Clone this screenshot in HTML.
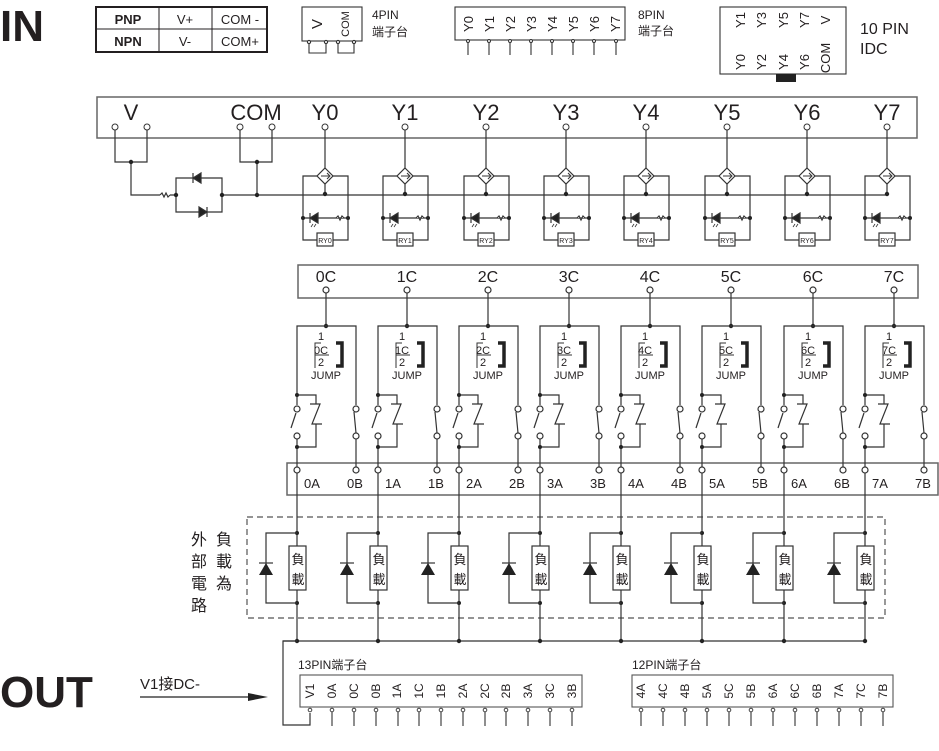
<!DOCTYPE html>
<html><head><meta charset="utf-8"><style>
body{margin:0;background:#fff}
svg{display:block;font-family:"Liberation Sans","Noto Sans CJK TC",sans-serif}
</style></head><body>
<svg width="939" height="751" viewBox="0 0 939 751" xmlns="http://www.w3.org/2000/svg">
<defs>
<g id="ych" stroke="#333" stroke-width="1.2" fill="none">
<line x1="0" y1="130" x2="0" y2="168"/>
<polygon points="0,168 8,176 0,184 -8,176" fill="#fff"/>
<path d="M-4,176 H4 M2,173 L5,176 L2,179" stroke-width="1"/>
<line x1="0" y1="184" x2="0" y2="194"/>
<circle cx="0" cy="194" r="2.2" fill="#222" stroke="none"/>
<path d="M-8,176 H-22 V240 H-8 M8,240 H23 V176 H8"/>
<line x1="-22" y1="218" x2="23" y2="218"/>
<polygon points="-15,218 -7,213 -7,223" fill="#222"/>
<line x1="-15" y1="213" x2="-15" y2="223"/>
<path d="M11,218 l2,-2 l2,4 l2,-4 l2,2" fill="#fff"/>
<circle cx="-22" cy="218" r="2" fill="#222" stroke="none"/>
<circle cx="23" cy="218" r="2" fill="#222" stroke="none"/>
<rect x="-8" y="233" width="16" height="13" fill="#fff"/>
<path d="M-12,224 l-2,3 M-9,224 l-2,3" stroke-width="0.8"/>
</g>
<g id="lch" stroke="#333" stroke-width="1.2" fill="none">
<circle cx="0" cy="290" r="3" fill="#fff"/>
<line x1="0" y1="293" x2="0" y2="326"/>
<circle cx="0" cy="326" r="2.2" fill="#222" stroke="none"/>
<path d="M-29,470 V326 H30 V406"/>
<rect x="-30" y="405" width="2" height="34" fill="#fff" stroke="none"/>
<circle cx="-29" cy="409" r="3" fill="#fff"/>
<circle cx="-29" cy="436" r="3" fill="#fff"/>
<line x1="-30" y1="413" x2="-35" y2="428"/>
<path d="M-29,395 H-10 V404 M-10,424 V447 H-29"/>
<path d="M-16,404 H-6 L-14,424 H-4"/>
<circle cx="-29" cy="395" r="2" fill="#222" stroke="none"/>
<circle cx="-29" cy="447" r="2" fill="#222" stroke="none"/>
<rect x="28" y="405" width="4" height="34" fill="#fff" stroke="none"/>
<circle cx="30" cy="409" r="3" fill="#fff"/>
<circle cx="30" cy="436" r="3" fill="#fff"/>
<line x1="28" y1="412" x2="30" y2="433"/>
<line x1="30" y1="439" x2="30" y2="467"/>
<circle cx="-29" cy="470" r="3" fill="#fff"/>
<circle cx="30" cy="470" r="3" fill="#fff"/>
<path d="M-29,473 V641"/>
<circle cx="-29" cy="533" r="2" fill="#222" stroke="none"/>
<circle cx="-29" cy="603" r="2" fill="#222" stroke="none"/>
<circle cx="-29" cy="641" r="2.2" fill="#222" stroke="none"/>
<path d="M-29,533 H-60 V603 H-29"/>
<polygon points="-60,563 -67,575 -53,575" fill="#222" stroke="none"/>
<line x1="-67" y1="563" x2="-53" y2="563"/>
<rect x="-37" y="546" width="17" height="44" fill="#fff"/>
<path d="M-5,343 H-11 V368 M-11,355 H3" stroke-width="1"/>
<path d="M10,343 H16 V366 H10" stroke="#222" stroke-width="3.5"/>
</g>
</defs>

<!-- IN -->
<text x="0" y="41" font-size="44" font-weight="bold" fill="#231f20">IN</text>
<g stroke="#231f20" fill="none">
<rect x="96" y="7" width="171" height="45" stroke-width="2"/>
<line x1="96" y1="29" x2="267" y2="29" stroke-width="1"/>
<line x1="159" y1="7" x2="159" y2="52" stroke-width="1"/>
<line x1="212" y1="7" x2="212" y2="52" stroke-width="1"/>
</g>
<g font-size="13" fill="#231f20" text-anchor="middle">
<text x="128" y="24" font-weight="bold">PNP</text><text x="185" y="24">V+</text><text x="240" y="24">COM -</text>
<text x="128" y="46" font-weight="bold">NPN</text><text x="185" y="46">V-</text><text x="240" y="46">COM+</text>
</g>
<!-- 4PIN -->
<g stroke="#333" stroke-width="1.1" fill="none">
<rect x="302" y="7" width="60" height="34"/>
<path d="M309,43 V53 H326 V43 M338,43 V53 H354 V43"/>
<circle cx="309" cy="42" r="1.6" fill="#fff"/><circle cx="326" cy="42" r="1.6" fill="#fff"/>
<circle cx="338" cy="42" r="1.6" fill="#fff"/><circle cx="354" cy="42" r="1.6" fill="#fff"/>
</g>
<text transform="translate(322,24) rotate(-90)" font-size="15" text-anchor="middle" fill="#231f20">V</text>
<text transform="translate(349,24) rotate(-90)" font-size="11" text-anchor="middle" fill="#231f20">COM</text>
<text x="372" y="19" font-size="12" fill="#231f20">4PIN</text>
<text x="372" y="36" font-size="12" fill="#231f20">端子台</text>
<!-- 8PIN -->
<rect x="455" y="7" width="170" height="33" stroke="#333" fill="none" stroke-width="1.1"/>
<g font-size="13" fill="#231f20" text-anchor="middle">
<text transform="translate(473,24) rotate(-90)">Y0</text><text transform="translate(494,24) rotate(-90)">Y1</text>
<text transform="translate(515,24) rotate(-90)">Y2</text><text transform="translate(536,24) rotate(-90)">Y3</text>
<text transform="translate(557,24) rotate(-90)">Y4</text><text transform="translate(578,24) rotate(-90)">Y5</text>
<text transform="translate(599,24) rotate(-90)">Y6</text><text transform="translate(620,24) rotate(-90)">Y7</text>
</g>
<g stroke="#333" stroke-width="1.1">
<path d="M468,42V55M489,42V55M510,42V55M531,42V55M552,42V55M573,42V55M594,42V55M616,42V55"/>
</g>
<g fill="#fff" stroke="#333"><circle cx="468" cy="41" r="1.5"/><circle cx="489" cy="41" r="1.5"/><circle cx="510" cy="41" r="1.5"/><circle cx="531" cy="41" r="1.5"/><circle cx="552" cy="41" r="1.5"/><circle cx="573" cy="41" r="1.5"/><circle cx="594" cy="41" r="1.5"/><circle cx="616" cy="41" r="1.5"/></g>
<text x="638" y="19" font-size="12" fill="#231f20">8PIN</text>
<text x="638" y="35" font-size="12" fill="#231f20">端子台</text>
<!-- IDC -->
<rect x="720" y="7" width="126" height="67" stroke="#333" fill="none" stroke-width="1.1"/>
<rect x="776" y="74" width="20" height="8" fill="#222"/>
<g font-size="13" fill="#231f20" text-anchor="middle">
<text transform="translate(745,20) rotate(-90)">Y1</text><text transform="translate(766,20) rotate(-90)">Y3</text>
<text transform="translate(788,20) rotate(-90)">Y5</text><text transform="translate(809,20) rotate(-90)">Y7</text>
<text transform="translate(830,20) rotate(-90)">V</text>
<text transform="translate(745,62) rotate(-90)">Y0</text><text transform="translate(766,62) rotate(-90)">Y2</text>
<text transform="translate(788,62) rotate(-90)">Y4</text><text transform="translate(809,62) rotate(-90)">Y6</text>
<text transform="translate(830,58) rotate(-90)">COM</text>
</g>
<text x="860" y="34" font-size="16" fill="#231f20">10 PIN</text>
<text x="860" y="54" font-size="16" fill="#231f20">IDC</text>

<!-- top box -->
<rect x="97" y="97" width="820" height="41" fill="none" stroke="#666" stroke-width="1.5"/>
<g font-size="22" fill="#231f20" text-anchor="middle">
<text x="131" y="120">V</text><text x="256" y="120">COM</text>
<text x="325" y="120">Y0</text><text x="405" y="120">Y1</text><text x="486" y="120">Y2</text><text x="566" y="120">Y3</text>
<text x="646" y="120">Y4</text><text x="727" y="120">Y5</text><text x="807" y="120">Y6</text><text x="887" y="120">Y7</text>
</g>
<g stroke="#333" stroke-width="1.2" fill="none">
<path d="M115,130 V162 H147 V130 M131,162 V195 H160 M170,195 H176 M240,130 V162 H272 V130 M257,162 V195"/>
<path d="M160,195 l2,-2 l2,4 l2,-4 l2,4 l2,-2"/>
<path d="M176,195 V178 H222 V212 H176 V195 M222,195 H887"/>
<polygon points="193,178 201,173 201,183" fill="#222"/><line x1="193" y1="173" x2="193" y2="183"/>
<polygon points="207,212 199,207 199,217" fill="#222"/><line x1="207" y1="207" x2="207" y2="217"/>
</g>
<g fill="#fff" stroke="#333"><circle cx="115" cy="127" r="3"/><circle cx="147" cy="127" r="3"/><circle cx="240" cy="127" r="3"/><circle cx="272" cy="127" r="3"/></g>
<g fill="#222"><circle cx="131" cy="162" r="2.2"/><circle cx="176" cy="195" r="2.2"/><circle cx="222" cy="195" r="2.2"/><circle cx="257" cy="162" r="2.2"/><circle cx="257" cy="195" r="2.2"/></g>
<use href="#ych" x="325"/><use href="#ych" x="405"/><use href="#ych" x="486"/><use href="#ych" x="566"/>
<use href="#ych" x="646"/><use href="#ych" x="727"/><use href="#ych" x="807"/><use href="#ych" x="887"/>
<g fill="#fff" stroke="#333"><circle cx="325" cy="127" r="3"/><circle cx="405" cy="127" r="3"/><circle cx="486" cy="127" r="3"/><circle cx="566" cy="127" r="3"/><circle cx="646" cy="127" r="3"/><circle cx="727" cy="127" r="3"/><circle cx="807" cy="127" r="3"/><circle cx="887" cy="127" r="3"/></g>
<g font-size="7" fill="#231f20" text-anchor="middle">
<text x="325" y="243">RY0</text><text x="405" y="243">RY1</text><text x="486" y="243">RY2</text><text x="566" y="243">RY3</text>
<text x="646" y="243">RY4</text><text x="727" y="243">RY5</text><text x="807" y="243">RY6</text><text x="887" y="243">RY7</text>
</g>

<!-- C box -->
<rect x="298" y="265" width="620" height="33" fill="none" stroke="#666" stroke-width="1.5"/>
<rect x="287" y="463" width="651" height="32" fill="none" stroke="#666" stroke-width="1.5"/>
<rect x="247" y="517" width="638" height="101" fill="none" stroke="#555" stroke-width="1.2" stroke-dasharray="6,4"/>
<line x1="283" y1="641" x2="865" y2="641" stroke="#333" stroke-width="1.2"/>
<use href="#lch" x="326"/><use href="#lch" x="407"/><use href="#lch" x="488"/><use href="#lch" x="569"/>
<use href="#lch" x="650"/><use href="#lch" x="731"/><use href="#lch" x="813"/><use href="#lch" x="894"/>
<g font-size="16" fill="#231f20" text-anchor="middle">
<text x="326" y="282">0C</text><text x="407" y="282">1C</text><text x="488" y="282">2C</text><text x="569" y="282">3C</text>
<text x="650" y="282">4C</text><text x="731" y="282">5C</text><text x="813" y="282">6C</text><text x="894" y="282">7C</text>
</g>
<g font-size="11" fill="#231f20" text-anchor="middle">
<text x="321" y="340">1</text><text x="321" y="354">0C</text><text x="321" y="366">2</text><text x="326" y="379">JUMP</text>
<text x="402" y="340">1</text><text x="402" y="354">1C</text><text x="402" y="366">2</text><text x="407" y="379">JUMP</text>
<text x="483" y="340">1</text><text x="483" y="354">2C</text><text x="483" y="366">2</text><text x="488" y="379">JUMP</text>
<text x="564" y="340">1</text><text x="564" y="354">3C</text><text x="564" y="366">2</text><text x="569" y="379">JUMP</text>
<text x="645" y="340">1</text><text x="645" y="354">4C</text><text x="645" y="366">2</text><text x="650" y="379">JUMP</text>
<text x="726" y="340">1</text><text x="726" y="354">5C</text><text x="726" y="366">2</text><text x="731" y="379">JUMP</text>
<text x="808" y="340">1</text><text x="808" y="354">6C</text><text x="808" y="366">2</text><text x="813" y="379">JUMP</text>
<text x="889" y="340">1</text><text x="889" y="354">7C</text><text x="889" y="366">2</text><text x="894" y="379">JUMP</text>
</g>
<g font-size="13" fill="#231f20" text-anchor="middle">
<text x="312" y="488">0A</text><text x="355" y="488">0B</text><text x="393" y="488">1A</text><text x="436" y="488">1B</text>
<text x="474" y="488">2A</text><text x="517" y="488">2B</text><text x="555" y="488">3A</text><text x="598" y="488">3B</text>
<text x="636" y="488">4A</text><text x="679" y="488">4B</text><text x="717" y="488">5A</text><text x="760" y="488">5B</text>
<text x="799" y="488">6A</text><text x="842" y="488">6B</text><text x="880" y="488">7A</text><text x="923" y="488">7B</text>
</g>
<g font-size="13" fill="#231f20" text-anchor="middle">
<text x="298" y="564">負</text><text x="298" y="584">載</text><text x="379" y="564">負</text><text x="379" y="584">載</text>
<text x="460" y="564">負</text><text x="460" y="584">載</text><text x="541" y="564">負</text><text x="541" y="584">載</text>
<text x="622" y="564">負</text><text x="622" y="584">載</text><text x="703" y="564">負</text><text x="703" y="584">載</text>
<text x="785" y="564">負</text><text x="785" y="584">載</text><text x="866" y="564">負</text><text x="866" y="584">載</text>
</g>
<g font-size="16" fill="#231f20" text-anchor="middle">
<text x="199" y="545">外</text><text x="199" y="567">部</text><text x="199" y="589">電</text><text x="199" y="611">路</text>
<text x="224" y="545">負</text><text x="224" y="567">載</text><text x="224" y="589">為</text>
</g>

<!-- OUT -->
<text x="0" y="707" font-size="44" font-weight="bold" fill="#231f20">OUT</text>
<text x="140" y="689" font-size="15" fill="#231f20">V1接DC-</text>
<line x1="140" y1="697" x2="250" y2="697" stroke="#222" stroke-width="1.3"/>
<polygon points="248,693 268,697 248,701" fill="#222"/>
<path d="M297,641 H283 V725 H310 V713" stroke="#333" stroke-width="1.2" fill="none"/>
<text x="298" y="669" font-size="12" fill="#231f20">13PIN端子台</text>
<rect x="300" y="675" width="282" height="32" fill="none" stroke="#555" stroke-width="1.1"/>
<g font-size="12" fill="#231f20" text-anchor="middle">
<text transform="translate(314,691) rotate(-90)">V1</text><text transform="translate(336,691) rotate(-90)">0A</text>
<text transform="translate(358,691) rotate(-90)">0C</text><text transform="translate(380,691) rotate(-90)">0B</text>
<text transform="translate(401,691) rotate(-90)">1A</text><text transform="translate(423,691) rotate(-90)">1C</text>
<text transform="translate(445,691) rotate(-90)">1B</text><text transform="translate(467,691) rotate(-90)">2A</text>
<text transform="translate(489,691) rotate(-90)">2C</text><text transform="translate(510,691) rotate(-90)">2B</text>
<text transform="translate(532,691) rotate(-90)">3A</text><text transform="translate(554,691) rotate(-90)">3C</text>
<text transform="translate(576,691) rotate(-90)">3B</text>
</g>
<g stroke="#444" stroke-width="1.2">
<path d="M332,712V726M354,712V726M376,712V726M398,712V726M419,712V726M441,712V726M463,712V726M485,712V726M506,712V726M528,712V726M550,712V726M572,712V726"/>
<path d="M641,712V726M663,712V726M685,712V726M707,712V726M729,712V726M751,712V726M773,712V726M795,712V726M817,712V726M839,712V726M861,712V726M883,712V726"/>
</g>
<g fill="#fff" stroke="#444">
<circle cx="310" cy="710" r="1.8"/><circle cx="332" cy="710" r="1.8"/><circle cx="354" cy="710" r="1.8"/><circle cx="376" cy="710" r="1.8"/><circle cx="398" cy="710" r="1.8"/><circle cx="419" cy="710" r="1.8"/><circle cx="441" cy="710" r="1.8"/><circle cx="463" cy="710" r="1.8"/><circle cx="485" cy="710" r="1.8"/><circle cx="506" cy="710" r="1.8"/><circle cx="528" cy="710" r="1.8"/><circle cx="550" cy="710" r="1.8"/><circle cx="572" cy="710" r="1.8"/>
<circle cx="641" cy="710" r="1.8"/><circle cx="663" cy="710" r="1.8"/><circle cx="685" cy="710" r="1.8"/><circle cx="707" cy="710" r="1.8"/><circle cx="729" cy="710" r="1.8"/><circle cx="751" cy="710" r="1.8"/><circle cx="773" cy="710" r="1.8"/><circle cx="795" cy="710" r="1.8"/><circle cx="817" cy="710" r="1.8"/><circle cx="839" cy="710" r="1.8"/><circle cx="861" cy="710" r="1.8"/><circle cx="883" cy="710" r="1.8"/>
</g>
<text x="632" y="669" font-size="12" fill="#231f20">12PIN端子台</text>
<rect x="632" y="675" width="261" height="32" fill="none" stroke="#555" stroke-width="1.1"/>
<g font-size="12" fill="#231f20" text-anchor="middle">
<text transform="translate(645,691) rotate(-90)">4A</text><text transform="translate(667,691) rotate(-90)">4C</text>
<text transform="translate(689,691) rotate(-90)">4B</text><text transform="translate(711,691) rotate(-90)">5A</text>
<text transform="translate(733,691) rotate(-90)">5C</text><text transform="translate(755,691) rotate(-90)">5B</text>
<text transform="translate(777,691) rotate(-90)">6A</text><text transform="translate(799,691) rotate(-90)">6C</text>
<text transform="translate(821,691) rotate(-90)">6B</text><text transform="translate(843,691) rotate(-90)">7A</text>
<text transform="translate(865,691) rotate(-90)">7C</text><text transform="translate(887,691) rotate(-90)">7B</text>
</g>
</svg>
</body></html>
